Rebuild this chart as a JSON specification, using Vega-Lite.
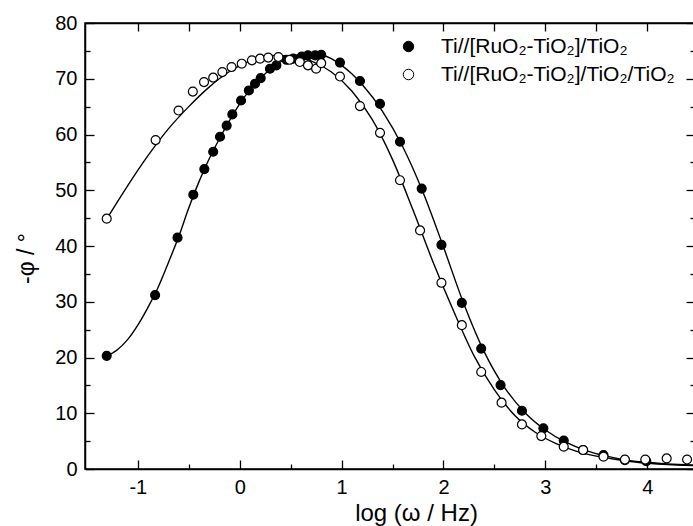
{
  "$schema": "https://vega.github.io/schema/vega-lite/v6.json",
  "width": 610,
  "height": 446,
  "autosize": {"type": "none"},
  "padding": {"left": 85, "top": 23, "right": 0, "bottom": 57},
  "background": "white",
  "config": {
    "font": "Liberation Sans",
    "view": {"stroke": "black", "strokeWidth": 1.5},
    "axis": {
      "domainColor": "black",
      "domainWidth": 1.5,
      "tickColor": "black",
      "tickWidth": 1.3,
      "labelColor": "black",
      "labelFont": "Liberation Sans",
      "labelFontSize": 20,
      "titleFont": "Liberation Sans",
      "titleColor": "black",
      "titleFontWeight": "normal",
      "grid": false
    }
  },
  "datasets": {
    "pts": [
      {"x": -1.305, "y": 20.3, "series": "Ti//[RuO₂-TiO₂]/TiO₂"},
      {"x": -0.83, "y": 31.2, "series": "Ti//[RuO₂-TiO₂]/TiO₂"},
      {"x": -0.61, "y": 41.5, "series": "Ti//[RuO₂-TiO₂]/TiO₂"},
      {"x": -0.455, "y": 49.2, "series": "Ti//[RuO₂-TiO₂]/TiO₂"},
      {"x": -0.347, "y": 53.8, "series": "Ti//[RuO₂-TiO₂]/TiO₂"},
      {"x": -0.26, "y": 56.9, "series": "Ti//[RuO₂-TiO₂]/TiO₂"},
      {"x": -0.193, "y": 59.6, "series": "Ti//[RuO₂-TiO₂]/TiO₂"},
      {"x": -0.128, "y": 61.6, "series": "Ti//[RuO₂-TiO₂]/TiO₂"},
      {"x": -0.072, "y": 63.6, "series": "Ti//[RuO₂-TiO₂]/TiO₂"},
      {"x": 0.013, "y": 66.1, "series": "Ti//[RuO₂-TiO₂]/TiO₂"},
      {"x": 0.09, "y": 67.9, "series": "Ti//[RuO₂-TiO₂]/TiO₂"},
      {"x": 0.15, "y": 69.1, "series": "Ti//[RuO₂-TiO₂]/TiO₂"},
      {"x": 0.206, "y": 70.1, "series": "Ti//[RuO₂-TiO₂]/TiO₂"},
      {"x": 0.297, "y": 71.8, "series": "Ti//[RuO₂-TiO₂]/TiO₂"},
      {"x": 0.36, "y": 72.4, "series": "Ti//[RuO₂-TiO₂]/TiO₂"},
      {"x": 0.46, "y": 73.4, "series": "Ti//[RuO₂-TiO₂]/TiO₂"},
      {"x": 0.526, "y": 73.6, "series": "Ti//[RuO₂-TiO₂]/TiO₂"},
      {"x": 0.61, "y": 74.0, "series": "Ti//[RuO₂-TiO₂]/TiO₂"},
      {"x": 0.67, "y": 74.2, "series": "Ti//[RuO₂-TiO₂]/TiO₂"},
      {"x": 0.74, "y": 74.2, "series": "Ti//[RuO₂-TiO₂]/TiO₂"},
      {"x": 0.8, "y": 74.3, "series": "Ti//[RuO₂-TiO₂]/TiO₂"},
      {"x": 0.984, "y": 72.9, "series": "Ti//[RuO₂-TiO₂]/TiO₂"},
      {"x": 1.18, "y": 69.6, "series": "Ti//[RuO₂-TiO₂]/TiO₂"},
      {"x": 1.377, "y": 65.5, "series": "Ti//[RuO₂-TiO₂]/TiO₂"},
      {"x": 1.573, "y": 58.7, "series": "Ti//[RuO₂-TiO₂]/TiO₂"},
      {"x": 1.786, "y": 50.3, "series": "Ti//[RuO₂-TiO₂]/TiO₂"},
      {"x": 1.98, "y": 40.2, "series": "Ti//[RuO₂-TiO₂]/TiO₂"},
      {"x": 2.18, "y": 29.8, "series": "Ti//[RuO₂-TiO₂]/TiO₂"},
      {"x": 2.37, "y": 21.6, "series": "Ti//[RuO₂-TiO₂]/TiO₂"},
      {"x": 2.56, "y": 15.05, "series": "Ti//[RuO₂-TiO₂]/TiO₂"},
      {"x": 2.77, "y": 10.45, "series": "Ti//[RuO₂-TiO₂]/TiO₂"},
      {"x": 2.98, "y": 7.3, "series": "Ti//[RuO₂-TiO₂]/TiO₂"},
      {"x": 3.18, "y": 5.1, "series": "Ti//[RuO₂-TiO₂]/TiO₂"},
      {"x": 3.37, "y": 3.4, "series": "Ti//[RuO₂-TiO₂]/TiO₂"},
      {"x": 3.57, "y": 2.5, "series": "Ti//[RuO₂-TiO₂]/TiO₂"},
      {"x": 3.78, "y": 1.6, "series": "Ti//[RuO₂-TiO₂]/TiO₂"},
      {"x": 3.99, "y": 1.4, "series": "Ti//[RuO₂-TiO₂]/TiO₂"},
      {"x": -1.305, "y": 44.9, "series": "Ti//[RuO₂-TiO₂]/TiO₂/TiO₂"},
      {"x": -0.825, "y": 59.0, "series": "Ti//[RuO₂-TiO₂]/TiO₂/TiO₂"},
      {"x": -0.6, "y": 64.3, "series": "Ti//[RuO₂-TiO₂]/TiO₂/TiO₂"},
      {"x": -0.46, "y": 67.7, "series": "Ti//[RuO₂-TiO₂]/TiO₂/TiO₂"},
      {"x": -0.35, "y": 69.4, "series": "Ti//[RuO₂-TiO₂]/TiO₂/TiO₂"},
      {"x": -0.26, "y": 70.2, "series": "Ti//[RuO₂-TiO₂]/TiO₂/TiO₂"},
      {"x": -0.17, "y": 71.2, "series": "Ti//[RuO₂-TiO₂]/TiO₂/TiO₂"},
      {"x": -0.08, "y": 72.1, "series": "Ti//[RuO₂-TiO₂]/TiO₂/TiO₂"},
      {"x": 0.02, "y": 72.7, "series": "Ti//[RuO₂-TiO₂]/TiO₂/TiO₂"},
      {"x": 0.12, "y": 73.3, "series": "Ti//[RuO₂-TiO₂]/TiO₂/TiO₂"},
      {"x": 0.2, "y": 73.6, "series": "Ti//[RuO₂-TiO₂]/TiO₂/TiO₂"},
      {"x": 0.28, "y": 73.8, "series": "Ti//[RuO₂-TiO₂]/TiO₂/TiO₂"},
      {"x": 0.38, "y": 73.9, "series": "Ti//[RuO₂-TiO₂]/TiO₂/TiO₂"},
      {"x": 0.49, "y": 73.4, "series": "Ti//[RuO₂-TiO₂]/TiO₂/TiO₂"},
      {"x": 0.59, "y": 73.0, "series": "Ti//[RuO₂-TiO₂]/TiO₂/TiO₂"},
      {"x": 0.67, "y": 72.4, "series": "Ti//[RuO₂-TiO₂]/TiO₂/TiO₂"},
      {"x": 0.75, "y": 71.8, "series": "Ti//[RuO₂-TiO₂]/TiO₂/TiO₂"},
      {"x": 0.8, "y": 72.8, "series": "Ti//[RuO₂-TiO₂]/TiO₂/TiO₂"},
      {"x": 0.984, "y": 70.4, "series": "Ti//[RuO₂-TiO₂]/TiO₂/TiO₂"},
      {"x": 1.18, "y": 65.1, "series": "Ti//[RuO₂-TiO₂]/TiO₂/TiO₂"},
      {"x": 1.377, "y": 60.3, "series": "Ti//[RuO₂-TiO₂]/TiO₂/TiO₂"},
      {"x": 1.573, "y": 51.8, "series": "Ti//[RuO₂-TiO₂]/TiO₂/TiO₂"},
      {"x": 1.77, "y": 42.8, "series": "Ti//[RuO₂-TiO₂]/TiO₂/TiO₂"},
      {"x": 1.98, "y": 33.4, "series": "Ti//[RuO₂-TiO₂]/TiO₂/TiO₂"},
      {"x": 2.18, "y": 25.8, "series": "Ti//[RuO₂-TiO₂]/TiO₂/TiO₂"},
      {"x": 2.37, "y": 17.4, "series": "Ti//[RuO₂-TiO₂]/TiO₂/TiO₂"},
      {"x": 2.57, "y": 11.9, "series": "Ti//[RuO₂-TiO₂]/TiO₂/TiO₂"},
      {"x": 2.77, "y": 8.0, "series": "Ti//[RuO₂-TiO₂]/TiO₂/TiO₂"},
      {"x": 2.96, "y": 5.9, "series": "Ti//[RuO₂-TiO₂]/TiO₂/TiO₂"},
      {"x": 3.18, "y": 4.0, "series": "Ti//[RuO₂-TiO₂]/TiO₂/TiO₂"},
      {"x": 3.37, "y": 3.4, "series": "Ti//[RuO₂-TiO₂]/TiO₂/TiO₂"},
      {"x": 3.57, "y": 2.2, "series": "Ti//[RuO₂-TiO₂]/TiO₂/TiO₂"},
      {"x": 3.78, "y": 1.7, "series": "Ti//[RuO₂-TiO₂]/TiO₂/TiO₂"},
      {"x": 3.98, "y": 1.7, "series": "Ti//[RuO₂-TiO₂]/TiO₂/TiO₂"},
      {"x": 4.19, "y": 1.9, "series": "Ti//[RuO₂-TiO₂]/TiO₂/TiO₂"},
      {"x": 4.39, "y": 1.7, "series": "Ti//[RuO₂-TiO₂]/TiO₂/TiO₂"}
    ],
    "fit": [
      {"x": -1.3, "y": 20.3, "series": "a"},
      {"x": -1.2, "y": 21.4, "series": "a"},
      {"x": -1.1, "y": 23.2, "series": "a"},
      {"x": -1.0, "y": 25.8, "series": "a"},
      {"x": -0.9, "y": 29.0, "series": "a"},
      {"x": -0.8, "y": 32.6, "series": "a"},
      {"x": -0.7, "y": 37.0, "series": "a"},
      {"x": -0.6, "y": 41.6, "series": "a"},
      {"x": -0.5, "y": 46.8, "series": "a"},
      {"x": -0.4, "y": 51.5, "series": "a"},
      {"x": -0.3, "y": 55.6, "series": "a"},
      {"x": -0.2, "y": 59.2, "series": "a"},
      {"x": -0.1, "y": 62.5, "series": "a"},
      {"x": 0.0, "y": 65.5, "series": "a"},
      {"x": 0.1, "y": 68.0, "series": "a"},
      {"x": 0.2, "y": 70.0, "series": "a"},
      {"x": 0.3, "y": 71.7, "series": "a"},
      {"x": 0.4, "y": 73.0, "series": "a"},
      {"x": 0.5, "y": 73.9, "series": "a"},
      {"x": 0.6, "y": 74.4, "series": "a"},
      {"x": 0.7, "y": 74.5, "series": "a"},
      {"x": 0.8, "y": 74.3, "series": "a"},
      {"x": 0.9, "y": 73.6, "series": "a"},
      {"x": 1.0, "y": 72.4, "series": "a"},
      {"x": 1.1, "y": 70.9, "series": "a"},
      {"x": 1.2, "y": 69.0, "series": "a"},
      {"x": 1.4, "y": 64.2, "series": "a"},
      {"x": 1.6, "y": 57.8, "series": "a"},
      {"x": 1.8, "y": 49.6, "series": "a"},
      {"x": 2.0, "y": 39.8, "series": "a"},
      {"x": 2.2, "y": 29.6, "series": "a"},
      {"x": 2.4, "y": 21.0, "series": "a"},
      {"x": 2.6, "y": 14.6, "series": "a"},
      {"x": 2.8, "y": 10.1, "series": "a"},
      {"x": 3.0, "y": 7.0, "series": "a"},
      {"x": 3.2, "y": 4.8, "series": "a"},
      {"x": 3.4, "y": 3.3, "series": "a"},
      {"x": 3.6, "y": 2.3, "series": "a"},
      {"x": 3.8, "y": 1.6, "series": "a"},
      {"x": 4.0, "y": 1.2, "series": "a"},
      {"x": 4.2, "y": 0.9, "series": "a"},
      {"x": 4.47, "y": 0.7, "series": "a"},
      {"x": -1.3, "y": 45.0, "series": "b"},
      {"x": -1.1, "y": 50.8, "series": "b"},
      {"x": -0.9, "y": 56.2, "series": "b"},
      {"x": -0.7, "y": 61.0, "series": "b"},
      {"x": -0.5, "y": 65.0, "series": "b"},
      {"x": -0.3, "y": 68.5, "series": "b"},
      {"x": -0.1, "y": 71.3, "series": "b"},
      {"x": 0.1, "y": 73.2, "series": "b"},
      {"x": 0.3, "y": 74.2, "series": "b"},
      {"x": 0.5, "y": 74.1, "series": "b"},
      {"x": 0.7, "y": 73.2, "series": "b"},
      {"x": 0.9, "y": 71.2, "series": "b"},
      {"x": 1.1, "y": 67.8, "series": "b"},
      {"x": 1.3, "y": 62.7, "series": "b"},
      {"x": 1.5, "y": 55.5, "series": "b"},
      {"x": 1.7, "y": 46.5, "series": "b"},
      {"x": 1.9, "y": 37.0, "series": "b"},
      {"x": 2.1, "y": 28.3, "series": "b"},
      {"x": 2.3, "y": 20.3, "series": "b"},
      {"x": 2.5, "y": 14.2, "series": "b"},
      {"x": 2.7, "y": 9.6, "series": "b"},
      {"x": 2.9, "y": 6.6, "series": "b"},
      {"x": 3.1, "y": 4.6, "series": "b"},
      {"x": 3.3, "y": 3.2, "series": "b"},
      {"x": 3.5, "y": 2.3, "series": "b"},
      {"x": 3.7, "y": 1.7, "series": "b"},
      {"x": 3.9, "y": 1.2, "series": "b"},
      {"x": 4.1, "y": 0.9, "series": "b"},
      {"x": 4.3, "y": 0.7, "series": "b"},
      {"x": 4.47, "y": 0.6, "series": "b"}
    ]
  },
  "layer": [
    {
      "data": {"name": "fit"},
      "mark": {"type": "line", "interpolate": "monotone", "color": "black", "strokeWidth": 1.4},
      "encoding": {
        "x": {
          "field": "x", "type": "quantitative",
          "scale": {"domain": [-1.518, 4.468], "nice": false, "zero": false},
          "axis": {
            "orient": "bottom",
            "values": [-1, -0.5, 0, 0.5, 1, 1.5, 2, 2.5, 3, 3.5, 4],
            "labelExpr": "datum.value % 1 === 0 ? '' + datum.value : ''",
            "tickSize": {"condition": {"test": "datum.value % 1 === 0", "value": -9}, "value": -5},
            "labelPadding": 17,
            "title": "log (ω / Hz)",
            "titleFontSize": 24,
            "titleX": 331,
            "titleY": 51,
            "titleAlign": "center",
            "titleBaseline": "alphabetic"
          }
        },
        "y": {
          "field": "y", "type": "quantitative",
          "scale": {"domain": [0, 80], "nice": false, "zero": true},
          "axis": {
            "orient": "left",
            "values": [0, 5, 10, 15, 20, 25, 30, 35, 40, 45, 50, 55, 60, 65, 70, 75, 80],
            "labelExpr": "datum.value % 10 === 0 ? '' + datum.value : ''",
            "tickSize": {"condition": {"test": "datum.value % 10 === 0", "value": -9}, "value": -5},
            "labelPadding": 17,
            "title": "-φ / °",
            "titleFontSize": 23,
            "titleX": -59,
            "titleY": 235,
            "titleAlign": "center",
            "titleBaseline": "middle",
            "titleAngle": -90
          }
        },
        "detail": {"field": "series"}
      }
    },
    {
      "data": {"name": "pts"},
      "mark": {"type": "circle", "size": 80, "stroke": "black", "strokeWidth": 1.2, "opacity": 1},
      "encoding": {
        "x": {
          "field": "x", "type": "quantitative",
          "axis": {
            "orient": "top",
            "values": [-1, -0.5, 0, 0.5, 1, 1.5, 2, 2.5, 3, 3.5, 4],
            "labels": false,
            "tickSize": -8,
            "title": null
          }
        },
        "y": {
          "field": "y", "type": "quantitative",
          "axis": {
            "orient": "right",
            "values": [0, 5, 10, 15, 20, 25, 30, 35, 40, 45, 50, 55, 60, 65, 70, 75, 80],
            "labels": false,
            "tickSize": {"condition": {"test": "datum.value % 10 === 0", "value": -9}, "value": -5},
            "title": null
          }
        },
        "fill": {
          "field": "series", "type": "nominal",
          "scale": {"domain": ["Ti//[RuO₂-TiO₂]/TiO₂", "Ti//[RuO₂-TiO₂]/TiO₂/TiO₂"], "range": ["black", "white"]},
          "legend": {
            "orient": "none",
            "legendX": 313,
            "legendY": 13,
            "title": null,
            "padding": 0,
            "symbolType": "circle",
            "symbolSize": 110,
            "symbolStrokeColor": "black",
            "symbolStrokeWidth": 1,
            "labelFontSize": 21,
            "labelFont": "Liberation Sans",
            "labelColor": "black",
            "labelOffset": 22,
            "rowPadding": 6,
            "labelLimit": 400
          }
        }
      }
    }
  ],
  "resolve": {"axis": {"x": "independent", "y": "independent"}}
}
